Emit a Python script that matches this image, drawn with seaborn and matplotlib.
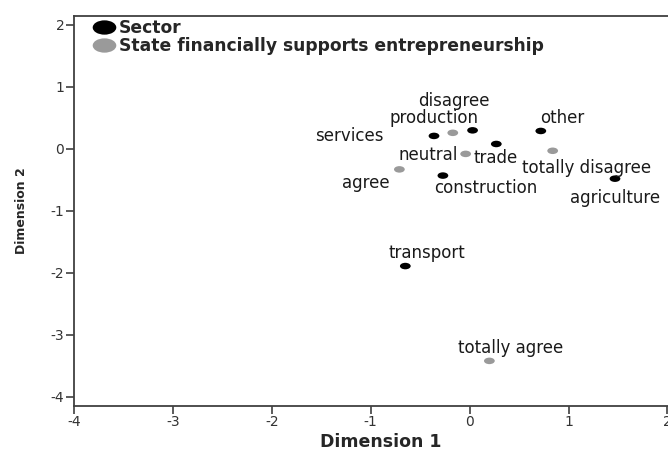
import numpy as np
import pandas as pd
import matplotlib
matplotlib.use('Agg')
import matplotlib.pyplot as plt
import seaborn as sns
from matplotlib.path import Path
from matplotlib.transforms import Affine2D
from matplotlib.lines import Line2D

sns.set_style('white')
plt.rcParams['font.family'] = ['DejaVu Sans']
plt.rcParams['axes.unicode_minus'] = False

# category points (Dimension 1, Dimension 2)
sector_labels = ['services', 'production', 'trade', 'other', 'construction', 'agriculture', 'transport']
sector_dim1 = [-0.36, 0.03, 0.27, 0.72, -0.27, 1.47, -0.65]
sector_dim2 = [0.21, 0.30, 0.08, 0.29, -0.43, -0.48, -1.89]

state_labels = ['disagree', 'neutral', 'totally disagree', 'agree', 'totally agree']
state_dim1 = [-0.17, -0.04, 0.84, -0.71, 0.20]
state_dim2 = [0.26, -0.08, -0.03, -0.33, -3.42]

group_names = ['Sector', 'State financially supports entrepreneurship']
group_colors = ['#000000', '#9a9a9a']
x_ticks = [-4, -3, -2, -1, 0, 1, 2]
y_ticks = [-4, -3, -2, -1, 0, 1, 2]

# label offsets (pixels from the point to the label centre)
label_offsets = {
    'services': (-85, 0), 'production': (-39, 12), 'trade': (-1, -14),
    'other': (21, 13), 'construction': (43, -12), 'agriculture': (0, -19),
    'transport': (22, 13), 'disagree': (1, 32), 'neutral': (-37, -1),
    'totally disagree': (34, -17), 'agree': (-34, -14), 'totally agree': (21, 13),
}

df = pd.DataFrame({
    'label': sector_labels + state_labels,
    'dim1': sector_dim1 + state_dim1,
    'dim2': sector_dim2 + state_dim2,
    'group': [group_names[0]] * len(sector_labels) + [group_names[1]] * len(state_labels),
})

# SPSS dots look like flattened ellipses
ellipse = Path.unit_circle().transformed(Affine2D().scale(1.65, 1.0))

fig = plt.figure(figsize=(6.68, 4.51), dpi=100)
ax = fig.add_axes([74 / 668, 45.5 / 451, 6.2 * 98.9 / 668, 389.5 / 451])

sns.scatterplot(x='dim1', y='dim2', hue='group', data=df, palette=dict(zip(group_names, group_colors)),
                marker=ellipse, s=60, linewidth=0, legend=False, ax=ax)

for i in range(len(df)):
    dx, dy = label_offsets[df['label'][i]]
    ax.annotate(df['label'][i], (df['dim1'][i], df['dim2'][i]), xytext=(dx, dy), textcoords='offset pixels',
                ha='center', va='center', fontsize=12, color='#1a1a1a')

ax.set_xlim(-4, 2.2)
ax.set_ylim(-4.14, 2.145)
ax.set_xticks(x_ticks)
ax.set_yticks(y_ticks)
ax.tick_params(axis='both', direction='out', length=6, width=1.2, color='#404040',
               labelsize=10, labelcolor='#333333', bottom=True, left=True, pad=1)
for side in ['left', 'bottom', 'top']:
    ax.spines[side].set_color('#404040')
    ax.spines[side].set_linewidth(1.3)
ax.spines['right'].set_visible(False)

ax.set_xlabel('Dimension 1', fontsize=12.5, fontweight='bold', labelpad=3)
ax.set_ylabel('Dimension 2', fontsize=9, fontweight='bold', labelpad=16)

handles = [Line2D([], [], linestyle='none', marker=ellipse, markersize=17, color=c, markeredgewidth=0)
           for c in group_colors]
leg = fig.legend(handles, group_names, loc='upper left', bbox_to_anchor=(91 / 668, 1 - 17 / 451),
                 frameon=False, prop={'weight': 'bold', 'size': 12.3}, labelspacing=0,
                 handlelength=1.3, handletextpad=0.25, borderpad=0.1, borderaxespad=0)

plt.savefig('out.png', dpi=100)
